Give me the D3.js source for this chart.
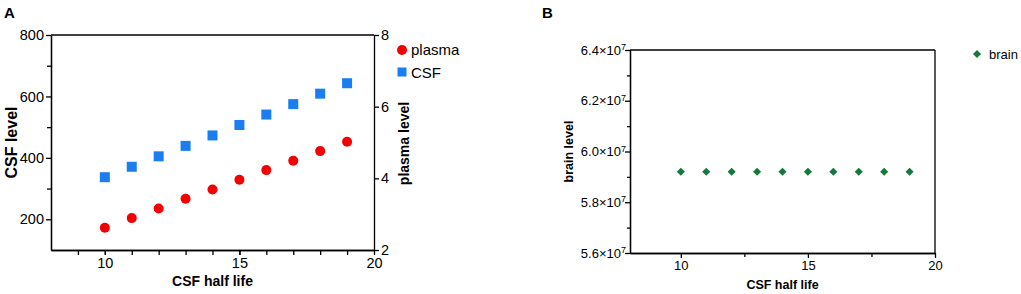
<!DOCTYPE html>
<html><head><meta charset="utf-8">
<script src="https://d3js.org/d3.v7.min.js"></script>
<style>body{margin:0;background:#fff}svg{display:block}text{font-family:"Liberation Sans",Arial,sans-serif}</style>
</head><body>
<svg id="c" width="1021" height="294"></svg>
<script>
const halfLife = [10, 11, 12, 13, 14, 15, 16, 17, 18, 19];
const csfLevel = [337, 371, 405, 439, 473, 507, 541, 575, 609, 643];
const plasmaLevel = [2.62, 2.89, 3.16, 3.43, 3.69, 3.96, 4.23, 4.49, 4.76, 5.02];
const brainLevel = [5.92e7, 5.92e7, 5.92e7, 5.92e7, 5.92e7, 5.92e7, 5.92e7, 5.92e7, 5.92e7, 5.92e7];
const xTicks = [10, 15, 20];
const csfTicks = [200, 400, 600, 800];
const plasmaTicks = [2, 4, 6, 8];
const brainTicks = [5.6e7, 5.8e7, 6.0e7, 6.2e7, 6.4e7];

const svg = d3.select("#c");
const RED = "#f40000", BLUE = "#1a7ef0", GREEN = "#147a3a";

// ---------- Panel A ----------
const A = {l: 51, r: 374, t: 35, b: 250};
const xA = d3.scaleLinear().domain([8, 20]).range([A.l, A.r]);
const yCsf = d3.scaleLinear().domain([100, 800]).range([A.b, A.t]);
const yPl = d3.scaleLinear().domain([2, 8]).range([A.b, A.t]);
const gA = svg.append("g");

function styleAxis(g, fs) {
  g.selectAll("path.domain").attr("stroke", "#000").attr("stroke-width", 1.3);
  g.selectAll(".tick line").attr("stroke", "#000").attr("stroke-width", 1.3);
  g.selectAll(".tick text").attr("fill", "#000").style("font-size", fs + "px").style("font-family", '"Liberation Sans",Arial,sans-serif');
}
gA.append("line").attr("x1", A.l).attr("x2", A.r).attr("y1", A.t).attr("y2", A.t).attr("stroke", "#000").attr("stroke-width", 1.3);
gA.append("g").attr("transform", `translate(0,${A.b})`)
  .call(d3.axisBottom(xA).tickValues(d3.range(9, 20)).tickSize(5).tickFormat("").tickSizeOuter(0))
  .call(g => styleAxis(g, 14.5));
gA.append("g").attr("transform", `translate(0,${A.b})`)
  .call(d3.axisBottom(xA).tickValues(xTicks).tickSize(5).tickPadding(3).tickSizeOuter(0))
  .call(g => styleAxis(g, 14.5));
gA.append("g").attr("transform", `translate(${A.l},0)`)
  .call(d3.axisLeft(yCsf).tickValues([300, 500, 700]).tickSize(4).tickFormat("").tickSizeOuter(0))
  .call(g => styleAxis(g, 14.5));
gA.append("g").attr("transform", `translate(${A.l},0)`)
  .call(d3.axisLeft(yCsf).tickValues(csfTicks).tickSize(5).tickPadding(2).tickSizeOuter(0))
  .call(g => styleAxis(g, 14.5));
gA.append("g").attr("transform", `translate(${A.r},0)`)
  .call(d3.axisRight(yPl).tickValues(plasmaTicks).tickFormat(d3.format("d")).tickSize(5).tickPadding(2).tickSizeOuter(0))
  .call(g => styleAxis(g, 14.5));

gA.selectAll("rect.csf").data(halfLife).enter().append("rect")
  .attr("x", (d) => xA(d) - 5).attr("y", (d, i) => yCsf(csfLevel[i]) - 5)
  .attr("width", 10).attr("height", 10).attr("fill", BLUE);
gA.selectAll("circle.pl").data(halfLife).enter().append("circle")
  .attr("cx", (d) => xA(d)).attr("cy", (d, i) => yPl(plasmaLevel[i])).attr("r", 5).attr("fill", RED);

gA.append("text").attr("x", 4).attr("y", 18).text("A").style("font-weight", "bold").style("font-size", "15px");
gA.append("text").attr("transform", `translate(17,${(A.t + A.b) / 2}) rotate(-90)`).attr("text-anchor", "middle")
  .text("CSF level").style("font-weight", "bold").style("font-size", "16px");
gA.append("text").attr("transform", `translate(409,${(A.t + A.b) / 2 + 1}) rotate(-90)`).attr("text-anchor", "middle")
  .text("plasma level").style("font-weight", "bold").style("font-size", "14px");
gA.append("text").attr("x", (A.l + A.r) / 2).attr("y", 286).attr("text-anchor", "middle")
  .text("CSF half life").style("font-weight", "bold").style("font-size", "14px");
gA.append("circle").attr("cx", 402).attr("cy", 50).attr("r", 5).attr("fill", RED);
gA.append("text").attr("x", 411).attr("y", 55).text("plasma").style("font-size", "15px");
gA.append("rect").attr("x", 397.5).attr("y", 67.5).attr("width", 9).attr("height", 9).attr("fill", BLUE);
gA.append("text").attr("x", 411).attr("y", 78).text("CSF").style("font-size", "15px");

// ---------- Panel B ----------
const B = {l: 630, r: 935, t: 50, b: 253};
const xB = d3.scaleLinear().domain([8, 20]).range([B.l, B.r]);
const yB = d3.scaleLinear().domain([5.6e7, 6.4e7]).range([B.b, B.t]);
const gB = svg.append("g");
gB.append("line").attr("x1", B.l).attr("x2", B.r).attr("y1", B.t).attr("y2", B.t).attr("stroke", "#000").attr("stroke-width", 1.3);
gB.append("line").attr("x1", B.r).attr("x2", B.r).attr("y1", B.t).attr("y2", B.b).attr("stroke", "#000").attr("stroke-width", 1.3);
gB.append("g").attr("transform", `translate(0,${B.b})`)
  .call(d3.axisBottom(xB).tickValues([12.5, 17.5]).tickSize(4).tickFormat("").tickSizeOuter(0))
  .call(g => styleAxis(g, 13));
gB.append("g").attr("transform", `translate(0,${B.b})`)
  .call(d3.axisBottom(xB).tickValues(xTicks).tickSize(5).tickPadding(3).tickSizeOuter(0))
  .call(g => styleAxis(g, 13));
gB.append("g").attr("transform", `translate(${B.l},0)`)
  .call(d3.axisLeft(yB).tickValues([5.7e7, 5.9e7, 6.1e7, 6.3e7]).tickSize(3).tickFormat("").tickSizeOuter(0))
  .call(g => styleAxis(g, 12));
const yAxB = gB.append("g").attr("transform", `translate(${B.l},0)`)
  .call(d3.axisLeft(yB).tickValues(brainTicks).tickSize(5).tickPadding(2).tickSizeOuter(0).tickFormat(""))
  .call(g => styleAxis(g, 12));
yAxB.selectAll(".tick").each(function (d) {
  const t = d3.select(this).append("text").attr("x", -4).attr("dy", "0.32em").attr("text-anchor", "end")
    .attr("fill", "#000").style("font-size", "13px");
  t.append("tspan").text((d / 1e7).toFixed(1) + "×10");
  t.append("tspan").attr("dy", "-0.5em").style("font-size", "9px").text("7");
});
gB.selectAll("path.br").data(halfLife).enter().append("path")
  .attr("d", d3.symbol().type(d3.symbolDiamond2).size(42))
  .attr("transform", (d, i) => `translate(${xB(d)},${yB(brainLevel[i])})`).attr("fill", GREEN);
gB.append("text").attr("x", 542).attr("y", 18).text("B").style("font-weight", "bold").style("font-size", "15px");
gB.append("text").attr("transform", `translate(573,${(B.t + B.b) / 2}) rotate(-90)`).attr("text-anchor", "middle")
  .text("brain level").style("font-weight", "bold").style("font-size", "12.5px");
gB.append("text").attr("x", (B.l + B.r) / 2).attr("y", 289).attr("text-anchor", "middle")
  .text("CSF half life").style("font-weight", "bold").style("font-size", "12.5px");
gB.append("path").attr("d", d3.symbol().type(d3.symbolDiamond2).size(42)).attr("transform", "translate(977,54)").attr("fill", GREEN);
gB.append("text").attr("x", 989).attr("y", 59).text("brain").style("font-size", "13px");
</script>
</body></html>
